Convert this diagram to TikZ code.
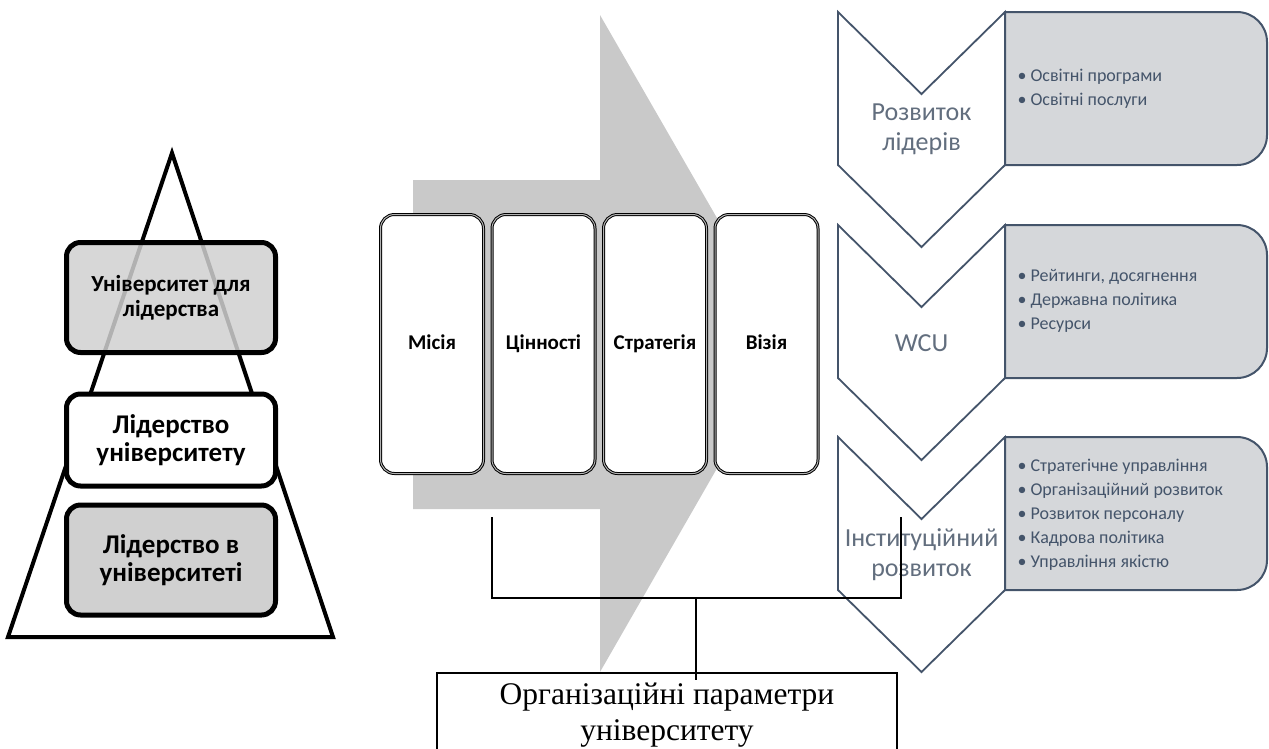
\documentclass[tikz,border=0pt]{standalone}
\usepackage{fontspec}
\setmainfont{Carlito}
\newfontfamily\serifcaption{Liberation Serif}
\usetikzlibrary{positioning}
\definecolor{slate}{RGB}{68,84,106}
\definecolor{slatetext}{RGB}{98,110,126}
\definecolor{boxgray}{RGB}{213,215,218}
\definecolor{arrowgray}{RGB}{201,201,201}
\definecolor{pyrgray}{RGB}{208,208,208}

\begin{document}
\begin{tikzpicture}[x=1pt, y=-1pt, node distance=8.5pt,
    pyr/.style={draw, line width=5pt, rounded corners=14pt, minimum width=209pt,
        minimum height=110pt, align=center, font=\bfseries\fontsize{27}{28}\selectfont},
    col/.style={draw, line width=1pt, double=black!30, double distance=1pt, outer sep=0pt,
        rounded corners=14pt, fill=white, minimum width=103pt, minimum height=259pt,
        text height=14pt, text depth=4pt, font=\bfseries\fontsize{21}{24}\selectfont},
    chev/.style={draw=slate, line width=1.8pt, fill=white},
    infobox/.style={draw=slate, line width=2pt, fill=boxgray},
    lead/.style={text=slatetext, align=center, font=\fontsize{26}{30}\selectfont},
    items/.style={text=slate, align=left, anchor=west, font=\fontsize{18}{24}\selectfont},
    brace/.style={line width=1.4pt}]
    \useasboundingbox (0,0) rectangle (1269,748);

    % pyramid
    \draw[line width=4pt, line join=miter] (172,153) -- (333,637) -- (8,637) -- cycle;
    \node[pyr, fill=white, minimum height=92pt] (mid) at (171,440) {Лідерство\\університету};
    \node[pyr, fill=pyrgray] (bot) at (171,560) {Лідерство в\\університеті};
    \node[pyr, fill=pyrgray, fill opacity=0.85, text opacity=1,
        font=\bfseries\fontsize{23}{25}\selectfont] (top) at (171,297.5) {Університет для\\лідерства};

    % big arrow
    \fill[arrowgray] (413,180) -- (600,180) -- (600,15) -- (789,343) -- (600,672)
        -- (600,509) -- (413,509) -- cycle;

    \node[col] (misia) at (432,344) {Місія};
    \node[col] (cinn) [right=of misia] {Цінності};
    \node[col] (strat) [right=of cinn] {Стратегія};
    \node[col] (vizia) [right=of strat] {Візія};

    % chevrons and boxes
    \foreach \t in {12,225,437} {
        \draw[infobox] (1005,\t) [rounded corners=30pt] -- (1267,\t) -- (1267,\t+153)
            [sharp corners] -- (1005,\t+153) -- cycle;
        \draw[chev] (838,\t) -- (921.5,\t+82) -- (1005,\t) -- (1005,\t+153)
            -- (921.5,\t+235) -- (838,\t+153) -- cycle;
    }
    \node[lead] (lead1) at (921.5,129) {Розвиток\\лідерів};
    \node[lead] (lead2) at (921.5,343) {WCU};
    \node[lead] (lead3) at (921.5,555) {Інституційний\\розвиток};

    \node[items] (list1) at (1014,88.5) {• Освітні програми\\• Освітні послуги};
    \node[items] (list2) at (1014,301) {• Рейтинги, досягнення\\• Державна політика\\• Ресурси};
    \node[items] (list3) at (1014,514.5) {• Стратегічне управління\\• Організаційний розвиток\\
        • Розвиток персоналу\\• Кадрова політика\\• Управління якістю};

    % bracket and caption
    \coordinate (brl) at (492,517);
    \coordinate (brr) at (901,517);
    \coordinate (brm) at (696,598);
    \coordinate (orgtop) at (696,680);
    \draw[brace] (brl) |- (brm) -| (brr);
    \draw[line width=1.5pt] (437,673) rectangle (897,780);
    \node[align=center, font=\serifcaption\fontsize{31.5}{36}\selectfont] (org) at (667,715)
        {Організаційні параметри\\університету};
    \draw[brace] (brm) -- (orgtop);
\end{tikzpicture}
\end{document}
